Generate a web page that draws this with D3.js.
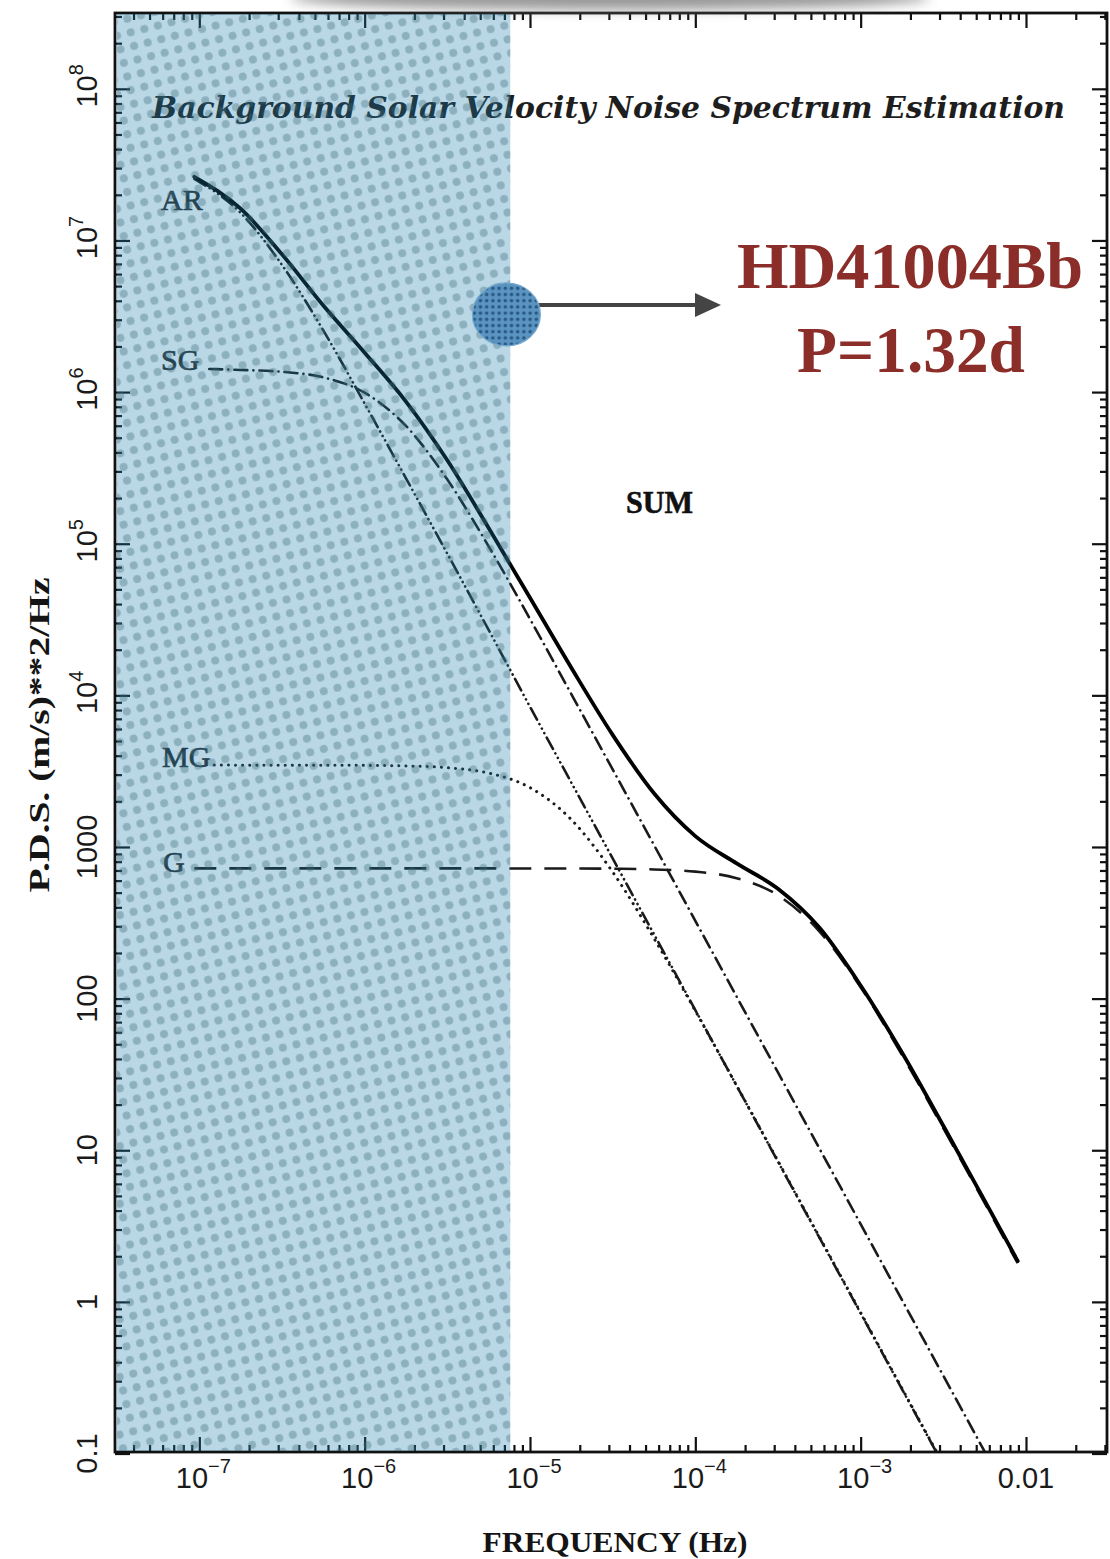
<!DOCTYPE html>
<html>
<head>
<meta charset="utf-8">
<script src="https://cdn.jsdelivr.net/npm/d3@7"></script>
<style>
  html, body { margin: 0; padding: 0; background: #ffffff; }
  svg { display: block; }
</style>
</head>
<body>
<svg id="chart" width="1110" height="1559"></svg>
<script>
// ---- Solar velocity noise components: frequency (Hz) and power density ((m/s)^2/Hz) ----
const sumFreq = [9.33e-8, 1.778e-7, 3.162e-7, 5.623e-7, 1e-6, 1.778e-6, 3.162e-6, 5.623e-6, 1e-5, 1.778e-5,
                 3.162e-5, 5.623e-5, 1e-4, 1.778e-4, 3.162e-4, 5.623e-4, 1e-3, 1.778e-3, 3.162e-3, 5.623e-3, 8.91e-3];
const sumPsd  = [2.63e7, 1.62e7, 8.10e6, 3.72e6, 1.82e6, 8.66e5, 3.55e5, 1.27e5, 4.40e4, 1.52e4,
                 5.49e3, 2.26e3, 1.18e3, 779, 530, 294, 122, 44.1, 14.5, 4.65, 1.86];

const arFreq = [9.33e-8, 1.778e-7, 3.162e-7, 5.623e-7, 1e-6, 1.778e-6, 3.162e-6, 5.623e-6, 1e-5, 1.778e-5,
                3.162e-5, 5.623e-5, 1e-4, 1.778e-4, 3.162e-4, 5.623e-4, 1e-3, 1.778e-3, 3.162e-3];
const arPsd  = [2.55e7, 1.52e7, 6.90e6, 2.55e6, 8.40e5, 2.70e5, 8.60e4, 2.70e4, 8.41e3, 2.66e3,
                841, 266, 84.1, 26.6, 8.41, 2.66, 0.841, 0.266, 0.0841];

const sgFreq = [1.148e-7, 1.778e-7, 3.162e-7, 5.623e-7, 1e-6, 1.778e-6, 3.162e-6, 5.623e-6, 1e-5, 1.778e-5,
                3.162e-5, 5.623e-5, 1e-4, 1.778e-4, 3.162e-4, 5.623e-4, 1e-3, 1.778e-3, 3.162e-3, 5.623e-3, 1e-2];
const sgPsd  = [1.42e6, 1.40e6, 1.36e6, 1.25e6, 9.90e5, 5.98e5, 2.65e5, 9.61e4, 3.19e4, 1.02e4,
                3.25e3, 1.03e3, 326, 103, 32.6, 10.3, 3.26, 1.03, 0.326, 0.103, 0.0326];

const mgFreq = [1.23e-7, 1e-6, 1.778e-6, 3.162e-6, 5.623e-6, 1e-5, 1.778e-5, 3.162e-5, 5.623e-5, 1e-4,
                1.778e-4, 3.162e-4, 5.623e-4, 1e-3, 1.778e-3, 3.162e-3];
const mgPsd  = [3467, 3453, 3423, 3332, 3072, 2464, 1515, 684, 250, 83.1,
                26.7, 8.49, 2.69, 0.851, 0.269, 0.0851];

const gFreq = [9.33e-8, 1e-6, 1e-5, 1.778e-5, 3.162e-5, 5.623e-5, 1e-4, 1.778e-4, 3.162e-4, 5.623e-4,
               1e-3, 1.778e-3, 3.162e-3, 5.623e-3, 8.91e-3];
const gPsd  = [723, 723, 722, 722, 719, 711, 688, 623, 480, 278,
               119, 42.5, 14.0, 4.49, 1.80];

// Frequency band below the planet's orbital frequency, and the planet marker
const shadeMaxFreq = 7.6e-6;
const planetFreq = 7.2e-6, planetPsd = 3.25e6;
const arrowEndFreq = 1.43e-4, arrowPsd = 3.75e6;

// Axis ticks and labels ([base, superscript])
const xTickValues = [1e-7, 1e-6, 1e-5, 1e-4, 1e-3, 1e-2];
const xTickLabels = [["10", "\u22127"], ["10", "\u22126"], ["10", "\u22125"], ["10", "\u22124"], ["10", "\u22123"], ["0.01", ""]];
const yTickValues = [0.1, 1, 10, 100, 1000, 1e4, 1e5, 1e6, 1e7, 1e8];
const yTickLabels = [["0.1", ""], ["1", ""], ["10", ""], ["100", ""], ["1000", ""], ["10", "4"], ["10", "5"], ["10", "6"], ["10", "7"], ["10", "8"]];

// ---- Layout ----
const svg = d3.select("#chart");
const plot = { left: 115, right: 1107, top: 13, bottom: 1452 };

const x = d3.scaleLog().domain([Math.pow(10, -7.51), Math.pow(10, -1.51)]).range([plot.left, plot.right]);
const y = d3.scaleLog().domain([Math.pow(10, -0.99), Math.pow(10, 8.5)]).range([plot.bottom, plot.top]);

const defs = svg.append("defs");
defs.append("clipPath").attr("id", "plotClip")
  .append("rect").attr("x", plot.left).attr("y", plot.top)
  .attr("width", plot.right - plot.left).attr("height", plot.bottom - plot.top);

// halftone tint for the low-frequency band
const tint = defs.append("pattern").attr("id", "tint")
  .attr("patternUnits", "userSpaceOnUse").attr("width", 14).attr("height", 14)
  .attr("patternTransform", "rotate(-14)");
tint.append("rect").attr("width", 14).attr("height", 14).attr("fill", "rgba(25,122,172,0.30)");
tint.append("circle").attr("cx", 7).attr("cy", 7).attr("r", 4.0).attr("fill", "rgba(60,105,122,0.36)");

// halftone fill for the planet marker
const dotFill = defs.append("pattern").attr("id", "dotFill")
  .attr("patternUnits", "userSpaceOnUse").attr("width", 6.2).attr("height", 6.2);
dotFill.append("rect").attr("width", 6.2).attr("height", 6.2).attr("fill", "#5b94c0");
dotFill.append("circle").attr("cx", 3.1).attr("cy", 3.1).attr("r", 1.8).attr("fill", "#285b86");

defs.append("filter").attr("id", "smudge").attr("x", "-20%").attr("y", "-200%").attr("width", "140%").attr("height", "500%")
  .append("feGaussianBlur").attr("stdDeviation", 6);

// ---- Curves ----
const line = d3.line()
  .x(d => x(d[0]))
  .y(d => y(d[1]))
  .curve(d3.curveMonotoneX);

const zip = (f, p) => f.map((v, i) => [v, p[i]]);

const curves = svg.append("g").attr("clip-path", "url(#plotClip)").attr("fill", "none");

const components = [
  { name: "G",  data: zip(gFreq, gPsd),   dash: "22,13",               width: 2.6, cap: "butt" },
  { name: "MG", data: zip(mgFreq, mgPsd), dash: "0.1,7",               width: 3.0, cap: "round" },
  { name: "SG", data: zip(sgFreq, sgPsd), dash: "13,6,0.1,6",          width: 2.6, cap: "round" },
  { name: "AR", data: zip(arFreq, arPsd), dash: "13,5,0.1,5,0.1,5,0.1,5", width: 2.6, cap: "round" }
];
components.forEach(c => {
  curves.append("path")
    .attr("d", line(c.data))
    .attr("stroke", "#1a1a1a")
    .attr("stroke-width", c.width)
    .attr("stroke-linecap", c.cap)
    .attr("stroke-dasharray", c.dash);
});
curves.append("path")
  .attr("d", line(zip(sumFreq, sumPsd)))
  .attr("stroke", "#000")
  .attr("stroke-width", 3.8)
  .attr("stroke-linecap", "round")
  .attr("stroke-linejoin", "round");

// ---- Labels inside the plot ----
svg.append("text")
  .attr("x", 152).attr("y", 118)
  .attr("textLength", 913).attr("lengthAdjust", "spacingAndGlyphs")
  .attr("font-family", "'DejaVu Serif', serif").attr("font-style", "italic").attr("font-weight", "bold")
  .attr("font-size", 30).attr("fill", "#1e1e1e")
  .text("Background Solar Velocity Noise Spectrum Estimation");

const compLabels = [
  { t: "AR", x: 161, y: 210 },
  { t: "SG", x: 161, y: 370 },
  { t: "MG", x: 162, y: 767 },
  { t: "G",  x: 163, y: 872 }
];
svg.append("g")
  .attr("font-family", "'Liberation Serif', 'Times New Roman', serif")
  .attr("font-size", 30).attr("fill", "#2a2a2a")
  .attr("stroke", "#2a2a2a").attr("stroke-width", 0.7)
  .selectAll("text").data(compLabels).join("text")
  .attr("x", d => d.x).attr("y", d => d.y).text(d => d.t);

svg.append("text")
  .attr("x", 626).attr("y", 513)
  .attr("textLength", 67).attr("lengthAdjust", "spacingAndGlyphs")
  .attr("font-family", "'Liberation Serif', 'Times New Roman', serif")
  .attr("font-weight", "bold").attr("font-size", 32).attr("fill", "#111")
  .attr("stroke", "#111").attr("stroke-width", 0.6)
  .text("SUM");

// ---- Axes: inward ticks on all four sides ----
const minor = [];
for (let e = -9; e <= 9; e++) for (let k = 2; k <= 9; k++) minor.push(k * Math.pow(10, e));
const inX = v => v >= x.domain()[0] && v <= x.domain()[1];
const inY = v => v >= y.domain()[0] && v <= y.domain()[1];
const xMinor = minor.filter(inX), yMinor = minor.filter(inY);

const axes = svg.append("g").attr("class", "axes");
function addAxis(gen, transform) {
  const g = axes.append("g").attr("transform", transform).call(gen);
  g.select(".domain").remove();
  g.selectAll(".tick line").attr("stroke", "#111").attr("stroke-width", 2.2);
  g.selectAll(".tick text").remove();
}
addAxis(d3.axisBottom(x).tickValues(xTickValues).tickSize(-15).tickFormat(""), `translate(0,${plot.bottom})`);
addAxis(d3.axisBottom(x).tickValues(xMinor).tickSize(-7).tickFormat(""), `translate(0,${plot.bottom})`);
addAxis(d3.axisTop(x).tickValues(xTickValues).tickSize(-15).tickFormat(""), `translate(0,${plot.top})`);
addAxis(d3.axisTop(x).tickValues(xMinor).tickSize(-7).tickFormat(""), `translate(0,${plot.top})`);
addAxis(d3.axisLeft(y).tickValues(yTickValues).tickSize(-15).tickFormat(""), `translate(${plot.left},0)`);
addAxis(d3.axisLeft(y).tickValues(yMinor).tickSize(-7).tickFormat(""), `translate(${plot.left},0)`);
addAxis(d3.axisRight(y).tickValues(yTickValues).tickSize(-15).tickFormat(""), `translate(${plot.right},0)`);
addAxis(d3.axisRight(y).tickValues(yMinor).tickSize(-7).tickFormat(""), `translate(${plot.right},0)`);

svg.append("rect")
  .attr("x", plot.left).attr("y", plot.top)
  .attr("width", plot.right - plot.left).attr("height", plot.bottom - plot.top)
  .attr("fill", "none").attr("stroke", "#111").attr("stroke-width", 2.8);

// soft grey shadow along the top edge
svg.append("ellipse")
  .attr("cx", 610).attr("cy", -2).attr("rx", 320).attr("ry", 12)
  .attr("fill", "#808080").attr("opacity", 0.8).attr("filter", "url(#smudge)");

// ---- Tinted low-frequency band ----
svg.append("rect")
  .attr("x", plot.left + 2).attr("y", plot.top + 1)
  .attr("width", x(shadeMaxFreq) - plot.left - 2)
  .attr("height", plot.bottom - plot.top - 2)
  .attr("fill", "url(#tint)");

// ---- Planet marker, arrow and annotation ----
const px = x(planetFreq), py = y(planetPsd);
const ay = y(arrowPsd), ax = x(arrowEndFreq);
svg.append("line")
  .attr("x1", px + 30).attr("y1", ay).attr("x2", ax - 20).attr("y2", ay)
  .attr("stroke", "#444").attr("stroke-width", 4);
svg.append("path")
  .attr("d", `M${ax},${ay} L${ax - 26},${ay - 12} L${ax - 26},${ay + 12} Z`)
  .attr("fill", "#444");
svg.append("ellipse")
  .attr("cx", px).attr("cy", py).attr("rx", 34).attr("ry", 31.5)
  .attr("fill", "url(#dotFill)").attr("stroke", "#79a9cf").attr("stroke-width", 1.2);

const redText = svg.append("g")
  .attr("font-family", "'Liberation Serif', 'Times New Roman', serif")
  .attr("font-weight", "bold").attr("fill", "#8b2e29").attr("text-anchor", "middle");
redText.append("text").attr("x", 910).attr("y", 288).attr("font-size", 66)
  .attr("textLength", 346).attr("lengthAdjust", "spacingAndGlyphs").text("HD41004Bb");
redText.append("text").attr("x", 911).attr("y", 372).attr("font-size", 66)
  .attr("textLength", 228).attr("lengthAdjust", "spacingAndGlyphs").text("P=1.32d");

// ---- Tick labels ----
const tickFont = "'Liberation Sans', Arial, sans-serif";
const xl = svg.append("g").attr("font-family", tickFont).attr("fill", "#1a1a1a").attr("text-anchor", "middle");
xTickValues.forEach((v, i) => {
  const [base, sup] = xTickLabels[i];
  const t = xl.append("text").attr("x", x(v) + (sup ? 4 : 0)).attr("y", 1488).attr("font-size", 29);
  t.append("tspan").text(base);
  if (sup) t.append("tspan").attr("dy", -15).attr("font-size", 20).text(sup);
});

const yl = svg.append("g").attr("font-family", tickFont).attr("fill", "#1a1a1a").attr("text-anchor", "middle");
yTickValues.forEach((v, i) => {
  const [base, sup] = yTickLabels[i];
  const t = yl.append("text")
    .attr("transform", `translate(97,${y(v) - (sup ? 3 : 0)}) rotate(-90)`)
    .attr("font-size", 29);
  t.append("tspan").text(base);
  if (sup) t.append("tspan").attr("dy", -14).attr("font-size", 20).text(sup);
});

// ---- Axis titles ----
svg.append("text")
  .attr("transform", "translate(49,735) rotate(-90)")
  .attr("text-anchor", "middle")
  .attr("textLength", 315).attr("lengthAdjust", "spacingAndGlyphs")
  .attr("font-family", "'Liberation Serif', 'Times New Roman', serif")
  .attr("font-weight", "bold").attr("font-size", 29).attr("fill", "#141414")
  .text("P.D.S. (m/s)**2/Hz");

svg.append("text")
  .attr("x", 615).attr("y", 1552)
  .attr("text-anchor", "middle")
  .attr("textLength", 265).attr("lengthAdjust", "spacingAndGlyphs")
  .attr("font-family", "'Liberation Serif', 'Times New Roman', serif")
  .attr("font-weight", "bold").attr("font-size", 30).attr("fill", "#141414")
  .text("FREQUENCY (Hz)");
</script>
</body>
</html>
